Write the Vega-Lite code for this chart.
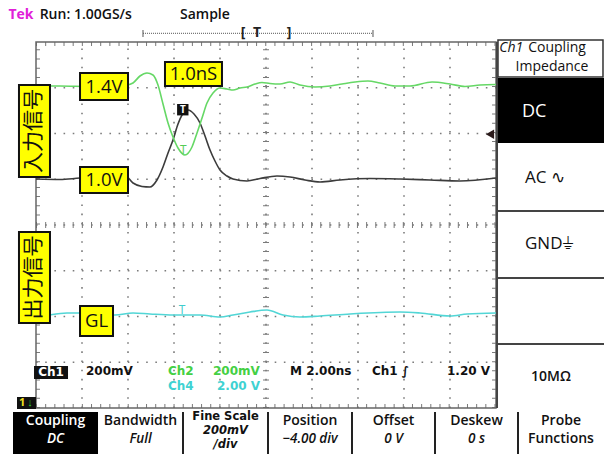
{
  "$schema": "https://vega.github.io/schema/vega-lite/v6.json",
  "width": 460,
  "height": 366,
  "autosize": {"type": "none"},
  "padding": {"left": 36, "top": 42, "right": 108, "bottom": 46},
  "background": "#ffffff",
  "config": {"view": {"stroke": null}, "text": {"font": "Open Sans"}},
  "datasets": {
    "grid": [
      {"x": 1, "x2": 1, "y": 0, "y2": 8}, {"x": 2, "x2": 2, "y": 0, "y2": 8},
      {"x": 3, "x2": 3, "y": 0, "y2": 8}, {"x": 4, "x2": 4, "y": 0, "y2": 8},
      {"x": 5, "x2": 5, "y": 0, "y2": 8}, {"x": 6, "x2": 6, "y": 0, "y2": 8},
      {"x": 7, "x2": 7, "y": 0, "y2": 8}, {"x": 8, "x2": 8, "y": 0, "y2": 8},
      {"x": 9, "x2": 9, "y": 0, "y2": 8},
      {"x": 0, "x2": 10, "y": 1, "y2": 1}, {"x": 0, "x2": 10, "y": 2, "y2": 2},
      {"x": 0, "x2": 10, "y": 3, "y2": 3}, {"x": 0, "x2": 10, "y": 4, "y2": 4},
      {"x": 0, "x2": 10, "y": 5, "y2": 5}, {"x": 0, "x2": 10, "y": 6, "y2": 6},
      {"x": 0, "x2": 10, "y": 7, "y2": 7}
    ],
    "edgeTicks": [
      {"x": 0, "x2": 10, "y": 7.956, "y2": 7.956},
      {"x": 0, "x2": 10, "y": 0.044, "y2": 0.044},
      {"x": 0.043, "x2": 0.043, "y": 0, "y2": 8},
      {"x": 9.957, "x2": 9.957, "y": 0, "y2": 8}
    ],
    "centerTicks": [
      {"x": 0, "x2": 10, "y": 4, "y2": 4},
      {"x": 5, "x2": 5, "y": 0, "y2": 8}
    ],
    "traces": [
      {"ch": "Ch1", "x": 0, "y": 5.005}, {"ch": "Ch1", "x": 0.522, "y": 4.995}, {"ch": "Ch1", "x": 0.957, "y": 5.027},
      {"ch": "Ch1", "x": 1.609, "y": 5.049}, {"ch": "Ch1", "x": 1.935, "y": 5.082}, {"ch": "Ch1", "x": 2.109, "y": 4.918},
      {"ch": "Ch1", "x": 2.304, "y": 4.842}, {"ch": "Ch1", "x": 2.478, "y": 4.831}, {"ch": "Ch1", "x": 2.63, "y": 4.984},
      {"ch": "Ch1", "x": 2.761, "y": 5.268}, {"ch": "Ch1", "x": 2.87, "y": 5.574}, {"ch": "Ch1", "x": 2.978, "y": 5.858},
      {"ch": "Ch1", "x": 3.087, "y": 6.208}, {"ch": "Ch1", "x": 3.174, "y": 6.404}, {"ch": "Ch1", "x": 3.304, "y": 6.514},
      {"ch": "Ch1", "x": 3.435, "y": 6.426}, {"ch": "Ch1", "x": 3.565, "y": 6.23}, {"ch": "Ch1", "x": 3.674, "y": 5.945},
      {"ch": "Ch1", "x": 3.783, "y": 5.639}, {"ch": "Ch1", "x": 3.891, "y": 5.399}, {"ch": "Ch1", "x": 4.0, "y": 5.202},
      {"ch": "Ch1", "x": 4.152, "y": 5.071}, {"ch": "Ch1", "x": 4.283, "y": 5.005}, {"ch": "Ch1", "x": 4.587, "y": 4.962},
      {"ch": "Ch1", "x": 4.87, "y": 5.016}, {"ch": "Ch1", "x": 5.239, "y": 5.071}, {"ch": "Ch1", "x": 5.522, "y": 5.049},
      {"ch": "Ch1", "x": 5.848, "y": 4.984}, {"ch": "Ch1", "x": 6.174, "y": 4.94}, {"ch": "Ch1", "x": 6.609, "y": 4.984},
      {"ch": "Ch1", "x": 7.261, "y": 5.016}, {"ch": "Ch1", "x": 7.913, "y": 5.005}, {"ch": "Ch1", "x": 8.565, "y": 4.984},
      {"ch": "Ch1", "x": 9.217, "y": 4.962}, {"ch": "Ch1", "x": 10, "y": 5.027},
      {"ch": "Ch2", "x": 0, "y": 7.038}, {"ch": "Ch2", "x": 0.522, "y": 7.038}, {"ch": "Ch2", "x": 1.174, "y": 7.027},
      {"ch": "Ch2", "x": 1.717, "y": 7.027}, {"ch": "Ch2", "x": 1.935, "y": 7.049}, {"ch": "Ch2", "x": 2.109, "y": 7.104},
      {"ch": "Ch2", "x": 2.261, "y": 7.257}, {"ch": "Ch2", "x": 2.413, "y": 7.322}, {"ch": "Ch2", "x": 2.543, "y": 7.279},
      {"ch": "Ch2", "x": 2.652, "y": 7.06}, {"ch": "Ch2", "x": 2.761, "y": 6.645}, {"ch": "Ch2", "x": 2.87, "y": 6.23},
      {"ch": "Ch2", "x": 2.978, "y": 5.923}, {"ch": "Ch2", "x": 3.087, "y": 5.683}, {"ch": "Ch2", "x": 3.239, "y": 5.53},
      {"ch": "Ch2", "x": 3.391, "y": 5.705}, {"ch": "Ch2", "x": 3.5, "y": 6.011}, {"ch": "Ch2", "x": 3.609, "y": 6.339},
      {"ch": "Ch2", "x": 3.717, "y": 6.667}, {"ch": "Ch2", "x": 3.848, "y": 6.885}, {"ch": "Ch2", "x": 4.0, "y": 6.995},
      {"ch": "Ch2", "x": 4.152, "y": 6.973}, {"ch": "Ch2", "x": 4.283, "y": 6.951}, {"ch": "Ch2", "x": 4.435, "y": 6.995},
      {"ch": "Ch2", "x": 4.587, "y": 7.016}, {"ch": "Ch2", "x": 4.761, "y": 7.082}, {"ch": "Ch2", "x": 4.913, "y": 7.115},
      {"ch": "Ch2", "x": 5.087, "y": 7.093}, {"ch": "Ch2", "x": 5.304, "y": 7.082}, {"ch": "Ch2", "x": 5.522, "y": 7.126},
      {"ch": "Ch2", "x": 5.739, "y": 7.06}, {"ch": "Ch2", "x": 6.065, "y": 7.016}, {"ch": "Ch2", "x": 6.391, "y": 7.038},
      {"ch": "Ch2", "x": 6.652, "y": 7.082}, {"ch": "Ch2", "x": 6.935, "y": 7.126}, {"ch": "Ch2", "x": 7.217, "y": 7.148},
      {"ch": "Ch2", "x": 7.478, "y": 7.104}, {"ch": "Ch2", "x": 7.804, "y": 7.038}, {"ch": "Ch2", "x": 8.13, "y": 7.038},
      {"ch": "Ch2", "x": 8.609, "y": 7.126}, {"ch": "Ch2", "x": 9.0, "y": 7.082}, {"ch": "Ch2", "x": 9.326, "y": 7.027},
      {"ch": "Ch2", "x": 9.652, "y": 7.06}, {"ch": "Ch2", "x": 10, "y": 7.071},
      {"ch": "Ch4", "x": 0, "y": 1.967}, {"ch": "Ch4", "x": 0.304, "y": 2.033}, {"ch": "Ch4", "x": 0.674, "y": 2.077},
      {"ch": "Ch4", "x": 0.957, "y": 2.077}, {"ch": "Ch4", "x": 1.717, "y": 2.033}, {"ch": "Ch4", "x": 2.109, "y": 2.077},
      {"ch": "Ch4", "x": 2.478, "y": 2.055}, {"ch": "Ch4", "x": 2.978, "y": 2.033}, {"ch": "Ch4", "x": 3.565, "y": 2.033},
      {"ch": "Ch4", "x": 4.0, "y": 1.989}, {"ch": "Ch4", "x": 4.283, "y": 2.033}, {"ch": "Ch4", "x": 4.652, "y": 2.098},
      {"ch": "Ch4", "x": 5.022, "y": 2.142}, {"ch": "Ch4", "x": 5.37, "y": 2.033}, {"ch": "Ch4", "x": 5.739, "y": 1.989},
      {"ch": "Ch4", "x": 6.174, "y": 2.011}, {"ch": "Ch4", "x": 6.826, "y": 2.055}, {"ch": "Ch4", "x": 7.913, "y": 2.098},
      {"ch": "Ch4", "x": 8.348, "y": 2.077}, {"ch": "Ch4", "x": 9.0, "y": 2.011}, {"ch": "Ch4", "x": 9.37, "y": 2.055},
      {"ch": "Ch4", "x": 10, "y": 2.077}
    ],
    "yellowBoxes": [
      {"x": 0.957, "x2": 2.0, "y": 7.322, "y2": 6.732},
      {"x": 2.804, "x2": 4.043, "y": 7.563, "y2": 7.038},
      {"x": 0.957, "x2": 2.0, "y": 5.268, "y2": 4.699},
      {"x": -0.37, "x2": 0.304, "y": 7.06, "y2": 5.049},
      {"x": -0.37, "x2": 0.304, "y": 3.847, "y2": 1.858},
      {"x": 0.957, "x2": 1.674, "y": 2.23, "y2": 1.574}
    ],
    "yellowText": [
      {"x": 1.478, "y": 7.027, "label": "1.4V"},
      {"x": 3.424, "y": 7.301, "label": "1.0nS"},
      {"x": 1.478, "y": 4.984, "label": "1.0V"},
      {"x": 1.315, "y": 1.902, "label": "GL"}
    ],
    "cjkText": [
      {"x": -0.033, "y": 6.055, "label": "入力信号"},
      {"x": -0.033, "y": 2.852, "label": "出力信号"}
    ],
    "readBlack": [
      {"x": 1.087, "y": 0.798, "label": "200mV"},
      {"x": 5.522, "y": 0.798, "label": "M 2.00ns"},
      {"x": 7.304, "y": 0.798, "label": "Ch1 ∫"},
      {"x": 8.935, "y": 0.798, "label": "1.20 V"}
    ],
    "readGreen": [
      {"x": 2.87, "y": 0.798, "label": "Ch2"},
      {"x": 3.848, "y": 0.798, "label": "200mV"}
    ],
    "readCyan": [
      {"x": 2.87, "y": 0.47, "label": "Ch4"},
      {"x": 3.935, "y": 0.47, "label": "2.00 V"}
    ],
    "panelSeparators": [
      {"x": 10.043, "x2": 12.37, "y": 4.306, "y2": 4.306},
      {"x": 10.043, "x2": 12.37, "y": 2.842, "y2": 2.842},
      {"x": 10.043, "x2": 12.37, "y": 1.399, "y2": 1.399},
      {"x": 10.022, "x2": 10.022, "y": 0, "y2": 8}
    ],
    "panelText": [
      {"x": 10.63, "y": 5.027, "label": "AC ∿"},
      {"x": 10.63, "y": 3.585, "label": "GND⏚"}
    ],
    "menuSeparators": [
      {"x": 3.196, "x2": 3.196, "y": -0.087, "y2": -1.02},
      {"x": 5.043, "x2": 5.043, "y": -0.087, "y2": -1.02},
      {"x": 6.87, "x2": 6.87, "y": -0.087, "y2": -1.02},
      {"x": 8.674, "x2": 8.674, "y": -0.087, "y2": -1.02},
      {"x": 10.478, "x2": 10.478, "y": -0.087, "y2": -1.02}
    ],
    "menuUpright": [
      {"x": 2.272, "y": -0.295, "label": "Bandwidth"},
      {"x": 5.957, "y": -0.295, "label": "Position"},
      {"x": 7.772, "y": -0.295, "label": "Offset"},
      {"x": 9.576, "y": -0.295, "label": "Deskew"},
      {"x": 11.413, "y": -0.284, "label": "Probe"},
      {"x": 11.413, "y": -0.678, "label": "Functions"}
    ],
    "menuItalic": [
      {"x": 2.272, "y": -0.667, "label": "Full"},
      {"x": 5.957, "y": -0.667, "label": "−4.00 div"},
      {"x": 7.772, "y": -0.667, "label": "0 V"},
      {"x": 9.576, "y": -0.667, "label": "0 s"}
    ],
    "fineItalic": [
      {"x": 4.12, "y": -0.492, "label": "200mV"},
      {"x": 4.12, "y": -0.798, "label": "/div"}
    ]
  },
  "encoding": {
    "x": {"field": "x", "type": "quantitative", "scale": {"domain": [0, 10], "nice": false, "zero": false}, "axis": null},
    "y": {"field": "y", "type": "quantitative", "scale": {"domain": [0, 8], "nice": false, "zero": false}, "axis": null}
  },
  "layer": [
    {"data": {"name": "grid"}, "mark": {"type": "rule", "stroke": "#7c7c7c", "strokeWidth": 1.6, "strokeDash": [1.6, 7.58]},
     "encoding": {"x2": {"field": "x2"}, "y2": {"field": "y2"}}},
    {"data": {"name": "edgeTicks"}, "mark": {"type": "rule", "stroke": "#7a7a7a", "strokeWidth": 4, "strokeDash": [1, 8.17]},
     "encoding": {"x2": {"field": "x2"}, "y2": {"field": "y2"}}},
    {"data": {"name": "centerTicks"}, "mark": {"type": "rule", "stroke": "#7a7a7a", "strokeWidth": 6, "strokeDash": [1, 8.17]},
     "encoding": {"x2": {"field": "x2"}, "y2": {"field": "y2"}}},
    {"data": {"values": [{"x": 0, "x2": 10, "y": 0, "y2": 8}]}, "mark": {"type": "rect", "fill": "transparent", "stroke": "#666666", "strokeWidth": 1.5},
     "encoding": {"x2": {"field": "x2"}, "y2": {"field": "y2"}}},
    {"data": {"name": "traces"}, "mark": {"type": "line", "strokeWidth": 1.6, "interpolate": "monotone"},
     "encoding": {"color": {"field": "ch", "type": "nominal", "scale": {"domain": ["Ch1", "Ch2", "Ch4"], "range": ["#3c3c3c", "#66d866", "#52d6d6"]}, "legend": null}}},
    {"data": {"values": [{"x": 3.191, "y": 6.52}]}, "mark": {"type": "square", "size": 130, "color": "#111111", "opacity": 1}},
    {"data": {"values": [{"x": 3.191, "y": 6.52, "label": "T"}]}, "mark": {"type": "text", "color": "#ffffff", "fontSize": 10, "fontWeight": "bold", "baseline": "middle"},
     "encoding": {"text": {"field": "label"}}},
    {"data": {"values": [{"x": 3.202, "y": 5.65, "label": "T"}]}, "mark": {"type": "text", "color": "#55cc55", "fontSize": 12, "baseline": "middle"},
     "encoding": {"text": {"field": "label"}}},
    {"data": {"values": [{"x": 3.174, "y": 2.142, "label": "T"}]}, "mark": {"type": "text", "color": "#40cccc", "fontSize": 12, "baseline": "middle"},
     "encoding": {"text": {"field": "label"}}},
    {"data": {"values": [{"x": 9.87, "y": 5.985}]}, "mark": {"type": "point", "shape": "triangle-left", "filled": true, "size": 90, "color": "#2a1a1a", "opacity": 1}},
    {"data": {"values": [{"x": 2.326, "x2": 7.326, "y": 8.19, "y2": 8.19}]}, "mark": {"type": "rule", "stroke": "#555555", "strokeWidth": 1, "strokeDash": [1, 1]},
     "encoding": {"x2": {"field": "x2"}, "y2": {"field": "y2"}}},
    {"data": {"values": [{"x": 2.326, "x2": 2.326, "y": 8.262, "y2": 8.109}, {"x": 7.326, "x2": 7.326, "y": 8.262, "y2": 8.109}]}, "mark": {"type": "rule", "stroke": "#555555", "strokeWidth": 1},
     "encoding": {"x2": {"field": "x2"}, "y2": {"field": "y2"}}},
    {"data": {"values": [{"x": 4.5, "y": 8.19, "label": "["}, {"x": 4.804, "y": 8.19, "label": "T"}, {"x": 5.5, "y": 8.19, "label": "]"}]},
     "mark": {"type": "text", "color": "#222222", "fontSize": 14, "fontWeight": "bold", "baseline": "middle"},
     "encoding": {"text": {"field": "label"}}},
    {"data": {"values": [{"x": -0.6, "y": 8.59, "label": "Tek"}]}, "mark": {"type": "text", "color": "#e020d8", "fontSize": 14, "fontWeight": "bold", "align": "left", "baseline": "middle"},
     "encoding": {"text": {"field": "label"}}},
    {"data": {"values": [{"x": 0.08, "y": 8.59, "label": "Run: 1.00GS/s"}, {"x": 3.13, "y": 8.59, "label": "Sample"}]},
     "mark": {"type": "text", "color": "#111111", "fontSize": 14, "fontWeight": 600, "align": "left", "baseline": "middle"},
     "encoding": {"text": {"field": "label"}}},
    {"data": {"name": "yellowBoxes"}, "mark": {"type": "rect", "fill": "#ffff00", "stroke": "#111111", "strokeWidth": 2},
     "encoding": {"x2": {"field": "x2"}, "y2": {"field": "y2"}}},
    {"data": {"name": "yellowText"}, "mark": {"type": "text", "color": "#111111", "fontSize": 18.5, "baseline": "middle"},
     "encoding": {"text": {"field": "label"}}},
    {"data": {"name": "cjkText"}, "mark": {"type": "text", "color": "#111111", "fontSize": 21, "angle": 270, "baseline": "middle", "font": "Noto Sans CJK JP"},
     "encoding": {"text": {"field": "label"}}},
    {"data": {"values": [{"x": -0.043, "x2": 0.696, "y": 0.918, "y2": 0.634}]}, "mark": {"type": "rect", "fill": "#111111"},
     "encoding": {"x2": {"field": "x2"}, "y2": {"field": "y2"}}},
    {"data": {"values": [{"x": 0.326, "y": 0.776, "label": "Ch1"}]}, "mark": {"type": "text", "color": "#ffffff", "fontSize": 12, "fontWeight": "bold", "baseline": "middle", "font": "DejaVu Sans"},
     "encoding": {"text": {"field": "label"}}},
    {"data": {"name": "readBlack"}, "mark": {"type": "text", "color": "#111111", "fontSize": 12, "fontWeight": "bold", "align": "left", "baseline": "middle", "font": "DejaVu Sans"},
     "encoding": {"text": {"field": "label"}}},
    {"data": {"name": "readGreen"}, "mark": {"type": "text", "color": "#44d044", "fontSize": 12, "fontWeight": "bold", "align": "left", "baseline": "middle", "font": "DejaVu Sans"},
     "encoding": {"text": {"field": "label"}}},
    {"data": {"name": "readCyan"}, "mark": {"type": "text", "color": "#3fd2d2", "fontSize": 12, "fontWeight": "bold", "align": "left", "baseline": "middle", "font": "DejaVu Sans"},
     "encoding": {"text": {"field": "label"}}},
    {"data": {"values": [{"x": -0.413, "x2": 0, "y": 0.24, "y2": -0.022}]}, "mark": {"type": "rect", "fill": "#111111"},
     "encoding": {"x2": {"field": "x2"}, "y2": {"field": "y2"}}},
    {"data": {"values": [{"x": -0.3, "y": 0.109, "label": "1"}]}, "mark": {"type": "text", "color": "#f0e020", "fontSize": 11, "fontWeight": "bold", "baseline": "middle"},
     "encoding": {"text": {"field": "label"}}},
    {"data": {"values": [{"x": -0.13, "y": 0.109, "label": "↓"}]}, "mark": {"type": "text", "color": "#30d030", "fontSize": 11, "fontWeight": "bold", "baseline": "middle"},
     "encoding": {"text": {"field": "label"}}},
    {"data": {"values": [{"x": 10.043, "x2": 12.326, "y": 8.044, "y2": 7.235}]}, "mark": {"type": "rect", "fill": "#ffffff", "stroke": "#333333", "strokeWidth": 1.5},
     "encoding": {"x2": {"field": "x2"}, "y2": {"field": "y2"}}},
    {"data": {"values": [{"x": 10.022, "x2": 12.4, "y": 7.213, "y2": 5.792}]}, "mark": {"type": "rect", "fill": "#000000"},
     "encoding": {"x2": {"field": "x2"}, "y2": {"field": "y2"}}},
    {"data": {"name": "panelSeparators"}, "mark": {"type": "rule", "stroke": "#444444", "strokeWidth": 2},
     "encoding": {"x2": {"field": "x2"}, "y2": {"field": "y2"}}},
    {"data": {"values": [{"x": 10.07, "y": 7.858, "label": "Ch1"}]}, "mark": {"type": "text", "color": "#111111", "fontSize": 14, "fontStyle": "italic", "align": "left", "baseline": "middle"},
     "encoding": {"text": {"field": "label"}}},
    {"data": {"values": [{"x": 10.7, "y": 7.858, "label": "Coupling"}]}, "mark": {"type": "text", "color": "#111111", "fontSize": 14, "fontWeight": 500, "align": "left", "baseline": "middle"},
     "encoding": {"text": {"field": "label"}}},
    {"data": {"values": [{"x": 11.217, "y": 7.464, "label": "Impedance"}]}, "mark": {"type": "text", "color": "#111111", "fontSize": 14, "fontWeight": 500, "baseline": "middle"},
     "encoding": {"text": {"field": "label"}}},
    {"data": {"values": [{"x": 10.565, "y": 6.47, "label": "DC"}]}, "mark": {"type": "text", "color": "#ffffff", "fontSize": 18, "align": "left", "baseline": "middle"},
     "encoding": {"text": {"field": "label"}}},
    {"data": {"name": "panelText"}, "mark": {"type": "text", "color": "#111111", "fontSize": 17, "align": "left", "baseline": "middle"},
     "encoding": {"text": {"field": "label"}}},
    {"data": {"values": [{"x": 11.196, "y": 0.678, "label": "10MΩ"}]}, "mark": {"type": "text", "color": "#111111", "fontSize": 14, "fontWeight": 600, "baseline": "middle"},
     "encoding": {"text": {"field": "label"}}},
    {"data": {"values": [{"x": -0.5, "x2": 1.348, "y": -0.087, "y2": -1.02}]}, "mark": {"type": "rect", "fill": "#000000"},
     "encoding": {"x2": {"field": "x2"}, "y2": {"field": "y2"}}},
    {"data": {"name": "menuSeparators"}, "mark": {"type": "rule", "stroke": "#222222", "strokeWidth": 2},
     "encoding": {"x2": {"field": "x2"}, "y2": {"field": "y2"}}},
    {"data": {"values": [{"x": 0.424, "y": -0.295, "label": "Coupling"}]}, "mark": {"type": "text", "color": "#ffffff", "fontSize": 14, "fontWeight": 600, "baseline": "middle"},
     "encoding": {"text": {"field": "label"}}},
    {"data": {"values": [{"x": 0.424, "y": -0.667, "label": "DC"}]}, "mark": {"type": "text", "color": "#ffffff", "fontSize": 13.5, "fontWeight": 600, "fontStyle": "italic", "baseline": "middle"},
     "encoding": {"text": {"field": "label"}}},
    {"data": {"name": "menuUpright"}, "mark": {"type": "text", "color": "#111111", "fontSize": 14, "fontWeight": 600, "baseline": "middle"},
     "encoding": {"text": {"field": "label"}}},
    {"data": {"name": "menuItalic"}, "mark": {"type": "text", "color": "#111111", "fontSize": 13.5, "fontWeight": 600, "fontStyle": "italic", "baseline": "middle"},
     "encoding": {"text": {"field": "label"}}},
    {"data": {"values": [{"x": 4.12, "y": -0.186, "label": "Fine Scale"}]}, "mark": {"type": "text", "color": "#111111", "fontSize": 11.5, "fontWeight": "bold", "baseline": "middle", "font": "DejaVu Sans"},
     "encoding": {"text": {"field": "label"}}},
    {"data": {"name": "fineItalic"}, "mark": {"type": "text", "color": "#111111", "fontSize": 11.5, "fontWeight": "bold", "fontStyle": "italic", "baseline": "middle", "font": "DejaVu Sans"},
     "encoding": {"text": {"field": "label"}}}
  ]
}
